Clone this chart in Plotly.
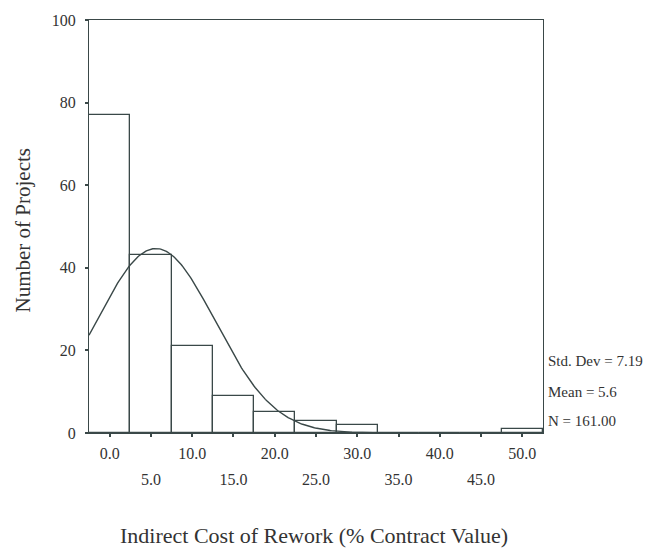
import numpy as np
import plotly.graph_objects as go

bin_centers = [0, 5, 10, 15, 20, 25, 30, 35, 40, 45, 50]
counts = [77, 43, 21, 9, 5, 3, 2, 0, 0, 0, 1]
bin_width = 5
std_dev = 7.19
mean = 5.6
n_total = 161
y_ticks = [0, 20, 40, 60, 80, 100]
x_ticks_row1 = [0, 10, 20, 30, 40, 50]
x_ticks_row2 = [5, 15, 25, 35, 45]

line_col = "#3a4848"
text_col = "#333333"
font_family = "Liberation Serif"

fig = go.Figure()
fig.add_trace(go.Bar(
    x=bin_centers, y=counts, width=bin_width,
    marker=dict(color="white", line=dict(color=line_col, width=1.3)),
    showlegend=False, hoverinfo="skip",
))

xs = np.linspace(-2.5, 52.5, 400)
ys = n_total * bin_width / (std_dev * np.sqrt(2 * np.pi)) * np.exp(-0.5 * ((xs - mean) / std_dev) ** 2)
fig.add_trace(go.Scatter(x=xs, y=ys, mode="lines", line=dict(color=line_col, width=1.4),
                         xaxis="x2", yaxis="y",
                         showlegend=False, hoverinfo="skip"))

tick_font = dict(family=font_family, size=16, color=text_col)
axis_common = dict(showgrid=False, zeroline=False, showline=True, linecolor=line_col,
                   linewidth=1.3, ticks="outside", tickcolor=line_col, ticklen=3, tickwidth=2,
                   tickfont=tick_font)

fig.update_layout(
    width=661, height=549,
    margin=dict(l=89, r=118, t=16, b=116),
    paper_bgcolor="white", plot_bgcolor="white",
    bargap=0,
    font=dict(family=font_family, color=text_col),
    xaxis=dict(range=[-2.5, 52.5], tickvals=x_ticks_row1,
               ticktext=[f"{v:.1f}" for v in x_ticks_row1], mirror=True,
               ticklabelstandoff=3,
               **axis_common),
    xaxis2=dict(range=[-2.5, 52.5], overlaying="x", side="bottom", anchor="y",
                tickvals=x_ticks_row2, ticktext=[f"{v:.1f}" for v in x_ticks_row2],
                showgrid=False, zeroline=False, showline=False, ticks="outside",
                tickcolor=line_col, ticklen=3, tickwidth=2, ticklabelstandoff=29,
                tickfont=tick_font),
    yaxis=dict(range=[0, 100], tickvals=y_ticks, mirror=True,
               ticklabelstandoff=6,
               **axis_common),
)

fig.add_annotation(text="Number of Projects", xref="paper", yref="paper",
                   x=0, xshift=-67, y=0.5, yshift=-4, textangle=-90, showarrow=False,
                   xanchor="center", yanchor="middle",
                   font=dict(family=font_family, size=21, color=text_col))

fig.add_annotation(text="Indirect Cost of Rework (% Contract Value)", xref="paper", yref="paper",
                   x=0.5, xshift=-2, y=0, yshift=-102, showarrow=False, xanchor="center", yanchor="middle",
                   font=dict(family=font_family, size=22, color=text_col))

stats = [f"Std. Dev = {std_dev:.2f}", f"Mean = {mean}", f"N = {n_total:.2f}"]
stat_y = [0.175, 0.10, 0.03]
for txt, yy in zip(stats, stat_y):
    fig.add_annotation(text=txt, xref="paper", yref="paper", x=1, xshift=3, y=yy,
                       xanchor="left", yanchor="middle", showarrow=False,
                       font=dict(family=font_family, size=15, color=text_col))

fig.write_html("out.html")
